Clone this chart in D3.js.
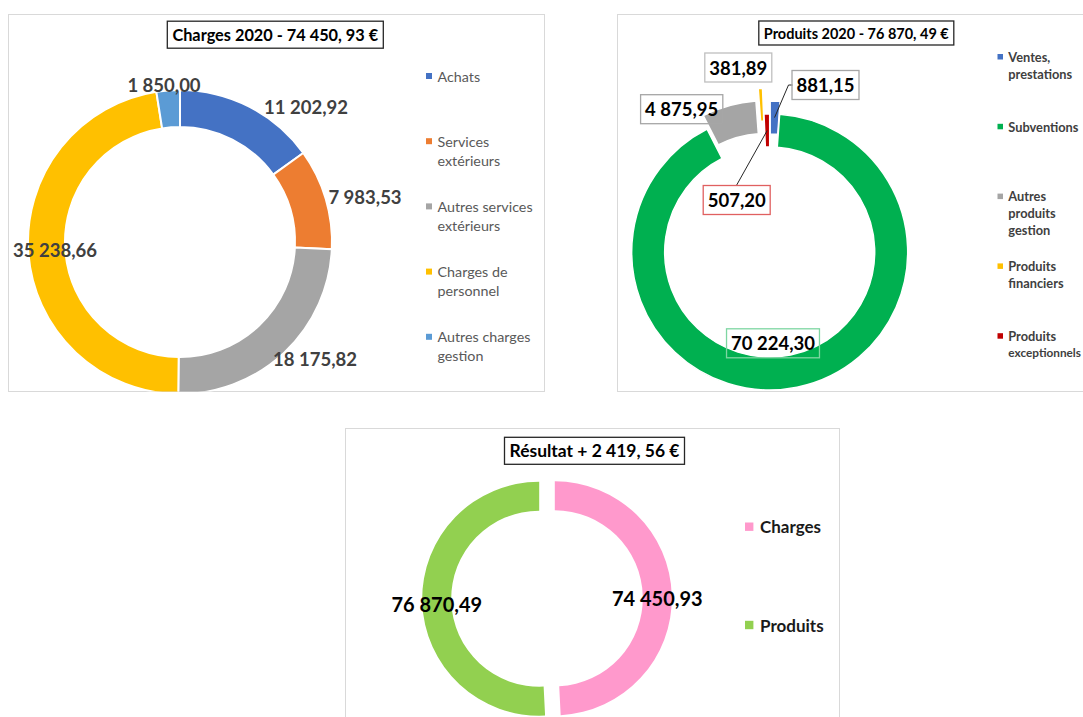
<!DOCTYPE html>
<html><head><meta charset="utf-8">
<script src="https://cdn.jsdelivr.net/npm/d3@7"></script>
<style>
body{margin:0;background:#fff}
svg{display:block}
text{font-family:Lato,"Open Sans",sans-serif}
</style>
</head><body>
<svg id="c" width="1083" height="717"></svg>
<script>
// ---------- DATA ----------
const chargeCategories = ["Achats","Services extérieurs","Autres services extérieurs","Charges de personnel","Autres charges gestion"];
const chargeValues = [11202.92, 7983.53, 18175.82, 35238.66, 1850.00];
const chargeLegendLines = [["Achats"],["Services","extérieurs"],["Autres services","extérieurs"],["Charges de","personnel"],["Autres charges","gestion"]];
const chargeColors = ["#4472C4","#ED7D31","#A5A5A5","#FFC000","#5B9BD5"];

const produitCategories = ["Ventes, prestations","Subventions","Autres produits gestion","Produits financiers","Produits exceptionnels"];
const produitValues = [881.15, 70224.30, 4875.95, 381.89, 507.20];
const produitLegendLines = [["Ventes,","prestations"],["Subventions"],["Autres","produits","gestion"],["Produits","financiers"],["Produits","exceptionnels"]];
const produitColors = ["#4472C4","#00B050","#A5A5A5","#FFC000","#C00000"];

const resultCategories = ["Charges","Produits"];
const resultValues = [74450.93, 76870.49];
const resultColors = ["#FF99CC","#92D050"];

const titles = ["Charges 2020 - 74 450, 93 €","Produits 2020 - 76 870, 49 €","Résultat + 2 419, 56 €"];

// ---------- LAYOUT ----------
const svg = d3.select("#c");
const fmt = d3.formatLocale({decimal:",", thousands:" ", grouping:[3], currency:["",""]}).format(",.2f");
const pie = d3.pie().sort(null).value(d => d);
const midA = d => (d.startAngle + d.endAngle) / 2;

// panel frames
const frames = [
  {x:8.5, y:14.5, w:536, h:377},
  {x:617.5, y:14.5, w:480, h:377},
  {x:345.5, y:428.5, w:494, h:300}
];
frames.forEach((f,i) => {
  svg.append("clipPath").attr("id","clip"+i).append("rect")
    .attr("x",f.x).attr("y",f.y).attr("width",f.w).attr("height",f.h);
  svg.append("rect").attr("x",f.x).attr("y",f.y).attr("width",f.w).attr("height",f.h)
    .attr("fill","#fff").attr("stroke","#D9D9D9").attr("stroke-width",1);
});

function titleBox(txt, cx, cy, targetW, h) {
  const g = svg.append("g");
  const t = g.append("text").attr("x",cx).attr("y",cy).attr("text-anchor","middle")
    .attr("dominant-baseline","central").attr("font-weight",700).attr("font-size",15)
    .attr("fill","#000").text(txt);
  const w = t.node().getComputedTextLength();
  t.attr("font-size", 15 * targetW / w);
  const w2 = targetW + 10;
  g.insert("rect","text").attr("x",cx - w2/2).attr("y",cy - h/2).attr("width",w2).attr("height",h)
    .attr("fill","#fff").attr("stroke","#262626").attr("stroke-width",1.3);
}

// ---------- PANEL 1 : Charges ----------
{
  const cx = 180, cy = 242, R = 152, r = 115;
  const g = svg.append("g").attr("clip-path","url(#clip0)")
    .append("g").attr("transform",`translate(${cx},${cy})`);
  const arcs = pie(chargeValues);
  const arc = d3.arc().innerRadius(r).outerRadius(R);
  g.selectAll("path").data(arcs).join("path")
    .attr("d",arc).attr("fill",(d,i)=>chargeColors[i])
    .attr("stroke","#fff").attr("stroke-width",2).attr("stroke-linejoin","round");
  const labelOff = [[126,-135],[185,-45],[135,117],[-125,8],[-16,-157]];
  g.selectAll("text.lbl").data(arcs).join("text").attr("class","lbl")
    .attr("x",(d,i)=>labelOff[i][0]).attr("y",(d,i)=>labelOff[i][1])
    .attr("text-anchor","middle").attr("dominant-baseline","central")
    .attr("font-weight",700).attr("font-size",18.5).attr("fill","#404040")
    .text(d=>fmt(d.data));
  titleBox(titles[0], 275.3, 34.7, 206, 27);
  // legend
  const lg = svg.append("g");
  chargeCategories.forEach((c,i) => {
    const y = 76 + i*65.2;
    lg.append("rect").attr("x",426).attr("y",y-3).attr("width",6).attr("height",6).attr("fill",chargeColors[i]);
    chargeLegendLines[i].forEach((ln,j) => {
      lg.append("text").attr("x",437.5).attr("y",y + j*19).attr("dominant-baseline","central")
        .attr("font-size",14.3).attr("fill","#595959").text(ln);
    });
  });
}

// ---------- PANEL 2 : Produits ----------
{
  const cx = 769.7, cy = 252, R = 138, r = 105;
  const explode = [13, 0, 14, 26, 0];
  const g = svg.append("g").attr("clip-path","url(#clip1)")
    .append("g").attr("transform",`translate(${cx},${cy})`);
  const arcs = pie(produitValues);
  const arc = d3.arc().innerRadius(r).outerRadius(R);
  const shift = (d,i) => [explode[i]*Math.sin(midA(d)), -explode[i]*Math.cos(midA(d))];
  g.selectAll("path").data(arcs).join("path")
    .attr("transform",(d,i)=>`translate(${shift(d,i)})`)
    .attr("d",arc).attr("fill",(d,i)=>produitColors[i])
    .attr("stroke","#fff").attr("stroke-width",1.5);
  // labels (box centre offsets from donut centre)
  const labelOff = [[55.8,-167],[3.3,91.3],[-88,-142.8],[-31.4,-184.5],[-33,-52]];
  const boxColor = ["#A6A6A6","#7ED6A2","#A6A6A6","#BFBFBF","#E06060"];
  // leader lines
  const cen = (d,i) => { const c = arc.centroid(d), s = shift(d,i); return [c[0]+s[0], c[1]+s[1]]; };
  {
    const d = arcs[0], c = cen(d,0), o = labelOff[0];
    g.append("polyline").attr("points",`${c[0]},${c[1]} ${o[0]-37},${o[1]} ${o[0]-33},${o[1]}`)
      .attr("fill","none").attr("stroke","#262626").attr("stroke-width",1);
  }
  {
    const d = arcs[4], c = cen(d,4), o = labelOff[4];
    g.append("line").attr("x1",o[0]).attr("y1",o[1]-15).attr("x2",c[0]).attr("y2",c[1])
      .attr("stroke","#262626").attr("stroke-width",1);
  }
  arcs.forEach((d,i) => {
    const o = labelOff[i];
    const t = g.append("text").attr("x",o[0]).attr("y",o[1]).attr("text-anchor","middle")
      .attr("dominant-baseline","central").attr("font-weight",700).attr("font-size",18.5)
      .attr("fill","#000").text(fmt(d.data));
    const w = t.node().getComputedTextLength() + 9;
    g.insert("rect","text").attr("x",o[0]-w/2).attr("y",o[1]-14.5).attr("width",w).attr("height",29)
      .attr("fill","none").attr("stroke",boxColor[i]).attr("stroke-width",1.3);
  });
  titleBox(titles[1], 856.3, 33, 185, 24);
  const lg = svg.append("g");
  const legX = 1008.3, maxRight = 1081;
  produitCategories.forEach((c,i) => {
    const y = 56.7 + i*69.8;
    lg.append("rect").attr("x",997.5).attr("y",y-2.7).attr("width",5.5).attr("height",5.5).attr("fill",produitColors[i]);
    produitLegendLines[i].forEach((ln,j) => {
      const t = lg.append("text").attr("x",legX).attr("y",y + j*17).attr("dominant-baseline","central")
        .attr("font-size",12.8).attr("font-weight",700).attr("fill","#404040").text(ln);
      const w = t.node().getComputedTextLength();
      if (legX + w > maxRight) t.attr("font-size", 12.8 * (maxRight - legX) / w);
    });
  });
}

// ---------- PANEL 3 : Résultat ----------
{
  const cx = 547, cy = 598.5, R = 117, r = 88, e = 7.8;
  const g = svg.append("g").attr("clip-path","url(#clip2)")
    .append("g").attr("transform",`translate(${cx},${cy})`);
  const arcs = pie(resultValues);
  const arc = d3.arc().innerRadius(r).outerRadius(R);
  const shift = d => [e*Math.sin(midA(d)), -e*Math.cos(midA(d))];
  g.selectAll("path").data(arcs).join("path")
    .attr("transform",d=>`translate(${shift(d)})`)
    .attr("d",arc).attr("fill",(d,i)=>resultColors[i]);
  g.selectAll("text.lbl").data(arcs).join("text").attr("class","lbl")
    .attr("x",d=>arc.centroid(d)[0]+shift(d)[0])
    .attr("y",d=>arc.centroid(d)[1]+shift(d)[1]+2.7)
    .attr("text-anchor","middle").attr("dominant-baseline","central")
    .attr("font-weight",700).attr("font-size",20).attr("fill","#000")
    .text(d=>fmt(d.data));
  titleBox(titles[2], 594.5, 450.8, 170, 27);
  const lg = svg.append("g");
  resultCategories.forEach((c,i) => {
    const y = 526.7 + i*98.3;
    lg.append("rect").attr("x",745).attr("y",y-4.2).attr("width",8.4).attr("height",8.4).attr("fill",resultColors[i]);
    lg.append("text").attr("x",760).attr("y",y).attr("dominant-baseline","central")
      .attr("font-size",17).attr("font-weight",700).attr("fill","#1a1a1a").text(c);
  });
}
</script>
</body></html>
